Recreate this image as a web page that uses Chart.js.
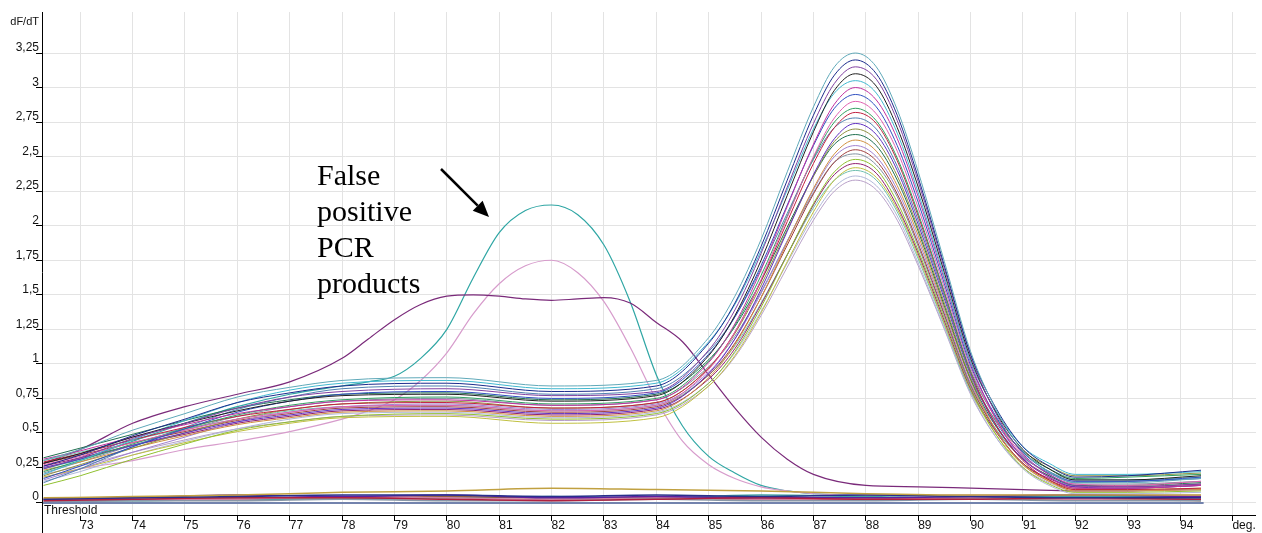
<!DOCTYPE html>
<html>
<head>
<meta charset="utf-8">
<script src="https://cdn.jsdelivr.net/npm/chart.js@4.4.1/dist/chart.umd.min.js"></script>
<style>
  body { margin: 0; background: #fff; }
  canvas { display: block; }
</style>
</head>
<body>
<canvas id="melt" width="1262" height="533"></canvas>
<script>
// melt curve temperatures (deg) for the positive wells
const meltTemps = [72.3, 73, 74, 75, 76, 77, 78, 80, 82, 84, 85, 85.5, 86, 86.5, 87, 87.4, 87.8, 88.2, 88.6, 89, 89.5, 90, 90.5, 91, 91.5, 92, 93, 94.4];

// dF/dT of the positive wells, main product peak near 87.8
const sampleCurves = [
  [0.30, 0.38, 0.52, 0.64, 0.76, 0.83, 0.88, 0.90, 0.84, 0.88, 1.19, 1.49, 1.90, 2.39, 2.86, 3.15, 3.25, 3.15, 2.84, 2.39, 1.74, 1.09, 0.66, 0.37, 0.22, 0.14, 0.14, 0.17],
  [0.26, 0.34, 0.48, 0.60, 0.72, 0.79, 0.84, 0.86, 0.80, 0.84, 1.15, 1.44, 1.85, 2.33, 2.80, 3.09, 3.20, 3.10, 2.80, 2.35, 1.71, 1.07, 0.67, 0.40, 0.26, 0.18, 0.19, 0.23],
  [0.24, 0.32, 0.46, 0.57, 0.68, 0.76, 0.80, 0.82, 0.77, 0.80, 1.10, 1.39, 1.80, 2.28, 2.74, 3.03, 3.15, 3.06, 2.76, 2.32, 1.69, 1.06, 0.63, 0.35, 0.20, 0.12, 0.11, 0.13],
  [0.28, 0.35, 0.47, 0.57, 0.66, 0.73, 0.77, 0.78, 0.73, 0.77, 1.06, 1.35, 1.75, 2.22, 2.68, 2.98, 3.10, 3.01, 2.71, 2.28, 1.66, 1.04, 0.64, 0.38, 0.24, 0.16, 0.16, 0.19],
  [0.20, 0.30, 0.45, 0.59, 0.72, 0.81, 0.86, 0.88, 0.82, 0.86, 1.16, 1.43, 1.82, 2.26, 2.70, 2.96, 3.05, 2.96, 2.67, 2.24, 1.63, 1.02, 0.65, 0.40, 0.28, 0.20, 0.20, 0.22],
  [0.31, 0.37, 0.47, 0.56, 0.64, 0.69, 0.73, 0.74, 0.70, 0.74, 1.01, 1.29, 1.68, 2.14, 2.59, 2.88, 3.00, 2.91, 2.63, 2.21, 1.61, 1.01, 0.59, 0.32, 0.18, 0.10, 0.10, 0.12],
  [0.17, 0.26, 0.40, 0.53, 0.65, 0.73, 0.78, 0.80, 0.75, 0.79, 1.07, 1.34, 1.71, 2.15, 2.58, 2.85, 2.95, 2.86, 2.58, 2.17, 1.58, 0.99, 0.61, 0.36, 0.22, 0.15, 0.15, 0.18],
  [0.27, 0.33, 0.43, 0.52, 0.60, 0.65, 0.69, 0.70, 0.66, 0.70, 0.96, 1.23, 1.61, 2.06, 2.50, 2.78, 2.90, 2.81, 2.54, 2.13, 1.55, 0.97, 0.59, 0.34, 0.20, 0.13, 0.12, 0.15],
  [0.22, 0.30, 0.42, 0.53, 0.63, 0.70, 0.74, 0.76, 0.71, 0.75, 1.02, 1.28, 1.64, 2.07, 2.49, 2.75, 2.85, 2.76, 2.49, 2.09, 1.52, 0.95, 0.60, 0.36, 0.24, 0.17, 0.18, 0.20],
  [0.29, 0.35, 0.45, 0.54, 0.62, 0.67, 0.71, 0.72, 0.68, 0.72, 0.97, 1.23, 1.60, 2.03, 2.45, 2.71, 2.82, 2.74, 2.47, 2.07, 1.51, 0.94, 0.55, 0.30, 0.16, 0.09, 0.09, 0.10],
  [0.14, 0.24, 0.40, 0.54, 0.67, 0.76, 0.82, 0.84, 0.78, 0.82, 1.09, 1.34, 1.69, 2.09, 2.48, 2.71, 2.78, 2.70, 2.43, 2.04, 1.49, 0.93, 0.57, 0.33, 0.21, 0.14, 0.15, 0.17],
  [0.25, 0.31, 0.41, 0.50, 0.58, 0.63, 0.67, 0.68, 0.64, 0.68, 0.93, 1.18, 1.54, 1.96, 2.37, 2.63, 2.74, 2.66, 2.40, 2.01, 1.47, 0.92, 0.55, 0.31, 0.18, 0.11, 0.10, 0.12],
  [0.19, 0.27, 0.39, 0.50, 0.60, 0.67, 0.71, 0.73, 0.68, 0.72, 0.97, 1.22, 1.57, 1.97, 2.36, 2.61, 2.70, 2.62, 2.36, 1.98, 1.44, 0.90, 0.58, 0.37, 0.26, 0.19, 0.19, 0.21],
  [0.32, 0.39, 0.49, 0.59, 0.68, 0.74, 0.78, 0.79, 0.74, 0.78, 1.03, 1.27, 1.60, 1.99, 2.36, 2.59, 2.66, 2.58, 2.33, 1.96, 1.42, 0.89, 0.54, 0.31, 0.19, 0.12, 0.12, 0.14],
  [0.23, 0.29, 0.39, 0.48, 0.56, 0.61, 0.65, 0.66, 0.62, 0.66, 0.90, 1.14, 1.48, 1.88, 2.27, 2.52, 2.62, 2.54, 2.29, 1.93, 1.40, 0.88, 0.51, 0.27, 0.15, 0.08, 0.08, 0.09],
  [0.16, 0.24, 0.36, 0.47, 0.58, 0.65, 0.69, 0.71, 0.67, 0.71, 0.94, 1.18, 1.51, 1.89, 2.26, 2.50, 2.58, 2.50, 2.26, 1.90, 1.38, 0.86, 0.54, 0.33, 0.21, 0.15, 0.15, 0.17],
  [0.28, 0.34, 0.43, 0.51, 0.59, 0.64, 0.68, 0.69, 0.65, 0.69, 0.92, 1.15, 1.48, 1.86, 2.23, 2.46, 2.55, 2.47, 2.23, 1.87, 1.36, 0.85, 0.51, 0.28, 0.16, 0.10, 0.10, 0.12],
  [0.21, 0.29, 0.41, 0.52, 0.62, 0.69, 0.73, 0.75, 0.70, 0.74, 0.98, 1.20, 1.52, 1.89, 2.24, 2.46, 2.52, 2.44, 2.21, 1.85, 1.35, 0.84, 0.52, 0.31, 0.19, 0.13, 0.13, 0.15],
  [0.12, 0.19, 0.31, 0.42, 0.52, 0.58, 0.62, 0.64, 0.60, 0.64, 0.86, 1.09, 1.41, 1.79, 2.16, 2.39, 2.48, 2.41, 2.17, 1.82, 1.33, 0.83, 0.48, 0.25, 0.13, 0.07, 0.07, 0.08],
  [0.26, 0.32, 0.41, 0.49, 0.57, 0.62, 0.66, 0.67, 0.63, 0.67, 0.89, 1.11, 1.43, 1.79, 2.15, 2.37, 2.45, 2.38, 2.14, 1.80, 1.31, 0.82, 0.50, 0.28, 0.17, 0.11, 0.11, 0.13],
  [0.18, 0.24, 0.34, 0.43, 0.51, 0.57, 0.61, 0.62, 0.57, 0.61, 0.84, 1.06, 1.37, 1.74, 2.10, 2.33, 2.42, 2.35, 2.12, 1.78, 1.29, 0.81, 0.48, 0.27, 0.15, 0.09, 0.09, 0.10],
  [0.30, 0.36, 0.45, 0.53, 0.60, 0.66, 0.69, 0.70, 0.66, 0.70, 0.92, 1.13, 1.44, 1.79, 2.13, 2.33, 2.40, 2.33, 2.10, 1.76, 1.28, 0.80, 0.51, 0.32, 0.22, 0.16, 0.16, 0.18],
  [0.15, 0.22, 0.34, 0.44, 0.53, 0.60, 0.64, 0.65, 0.61, 0.65, 0.86, 1.08, 1.38, 1.73, 2.07, 2.28, 2.36, 2.29, 2.07, 1.73, 1.26, 0.79, 0.46, 0.24, 0.12, 0.06, 0.06, 0.07],
  [0.20, 0.26, 0.36, 0.45, 0.53, 0.58, 0.62, 0.63, 0.59, 0.63, 0.84, 1.05, 1.35, 1.70, 2.04, 2.25, 2.33, 2.26, 2.04, 1.71, 1.25, 0.78, 0.46, 0.25, 0.14, 0.08, 0.08, 0.09]
];
const sampleColors = ['#5fa9b9', '#1c2c8c', '#8040a0', '#202020', '#40b8d0', '#c030a0', '#3050c0', '#e060b0',
  '#30a060', '#c02040', '#5080b0', '#6030c0', '#909040', '#207050', '#d09040', '#a080d0',
  '#a04040', '#8090a0', '#90c030', '#902070', '#c0c040', '#70c0b0', '#b0b8d8', '#b8a0c8'];

// the three wells with an early, unspecific peak
const fpTemps = [72.3, 73, 74, 75, 76, 77, 78, 78.5, 79, 79.5, 80, 80.5, 81, 81.5, 82, 82.5, 83, 83.5, 84, 84.5, 85, 85.5, 86, 86.5, 87, 88, 89, 90, 91, 92, 93, 94, 94.4];
const fpTeal = [0.24, 0.31, 0.44, 0.57, 0.69, 0.78, 0.84, 0.87, 0.91, 1.04, 1.25, 1.62, 1.95, 2.11, 2.15, 2.08, 1.86, 1.45, 0.92, 0.55, 0.33, 0.21, 0.12, 0.08, 0.06, 0.05, 0.05, 0.04, 0.04, 0.04, 0.04, 0.04, 0.04];
const fpPink = [0.18, 0.24, 0.30, 0.38, 0.44, 0.51, 0.60, 0.66, 0.74, 0.88, 1.08, 1.36, 1.58, 1.71, 1.75, 1.66, 1.45, 1.12, 0.74, 0.44, 0.27, 0.17, 0.11, 0.08, 0.06, 0.05, 0.05, 0.05, 0.05, 0.05, 0.05, 0.05, 0.05];
const fpPurple = [0.28, 0.38, 0.57, 0.69, 0.78, 0.87, 1.04, 1.18, 1.32, 1.43, 1.49, 1.50, 1.49, 1.47, 1.46, 1.47, 1.48, 1.44, 1.30, 1.16, 0.92, 0.68, 0.47, 0.31, 0.20, 0.12, 0.11, 0.10, 0.09, 0.08, 0.08, 0.09, 0.09];

// no-template controls, flat near zero
const ntcTemps = [72.3, 74, 76, 78, 80, 82, 84, 86, 88, 90, 92, 94.4];
const ntcCurves = [
  [0.03, 0.04, 0.05, 0.07, 0.08, 0.10, 0.09, 0.08, 0.06, 0.05, 0.05, 0.05],
  [0.02, 0.03, 0.04, 0.05, 0.05, 0.04, 0.05, 0.04, 0.05, 0.04, 0.03, 0.03],
  [0.01, 0.02, 0.03, 0.03, 0.02, 0.01, 0.02, 0.03, 0.02, 0.02, 0.03, 0.02],
  [0.02, 0.03, 0.05, 0.04, 0.05, 0.03, 0.04, 0.03, 0.03, 0.04, 0.05, 0.04],
  [0.00, 0.01, 0.01, 0.02, 0.01, 0.01, 0.02, 0.01, 0.01, 0.02, 0.01, 0.01],
  [0.01, 0.02, 0.02, 0.04, 0.03, 0.02, 0.03, 0.02, 0.02, 0.03, 0.02, 0.03],
  [0.02, 0.02, 0.03, 0.03, 0.04, 0.03, 0.03, 0.02, 0.03, 0.02, 0.02, 0.01],
  [0.01, 0.01, 0.02, 0.02, 0.03, 0.04, 0.03, 0.05, 0.04, 0.03, 0.04, 0.02]
];
const ntcColors = ['#c0a040', '#28308c', '#b02040', '#6020a0', '#8898a8', '#d080a0', '#906040', '#40a0a0'];

const thresholdTemps = [72.27, 94.45];
const thresholdLevel = [-0.008, -0.008];

const xTickValues = [73, 74, 75, 76, 77, 78, 79, 80, 81, 82, 83, 84, 85, 86, 87, 88, 89, 90, 91, 92, 93, 94, 95];
const xTickLabels = ['73', '74', '75', '76', '77', '78', '79', '80', '81', '82', '83', '84', '85', '86', '87', '88', '89', '90', '91', '92', '93', '94', 'deg.'];
const yTickValues = [0, 0.25, 0.5, 0.75, 1, 1.25, 1.5, 1.75, 2, 2.25, 2.5, 2.75, 3, 3.25];
const yTickLabels = ['0', '0,25', '0,5', '0,75', '1', '1,25', '1,5', '1,75', '2', '2,25', '2,5', '2,75', '3', '3,25'];

const noteLines = ['False', 'positive', 'PCR', 'products'];

const line = (xs, ys, color, width) => ({
  data: xs.map((x, i) => ({ x, y: ys[i] })),
  borderColor: color,
  borderWidth: width,
  pointRadius: 0,
  fill: false,
  cubicInterpolationMode: 'monotone'
});

const datasets = [line(thresholdTemps, thresholdLevel, '#7383ad', 2)];
ntcCurves.forEach((c, i) => datasets.push(line(ntcTemps, c, ntcColors[i], 1.5)));
sampleCurves.forEach((c, i) => datasets.push(line(meltTemps, c, sampleColors[i], 1)));
datasets.push(line(fpTemps, fpPurple, '#7a2a7a', 1.2));
datasets.push(line(fpTemps, fpPink, '#d79ccc', 1.2));
datasets.push(line(fpTemps, fpTeal, '#2fa6a4', 1.2));

// axis lines, corner labels, note and arrow
const overlay = {
  id: 'overlay',
  afterDraw: chart => {
    const { ctx, chartArea: a } = chart;
    ctx.save();
    ctx.fillStyle = '#fff';
    ctx.fillRect(a.left + 1, a.bottom - 10, 57, 11);

    ctx.strokeStyle = '#000';
    ctx.lineWidth = 1;
    ctx.beginPath();
    ctx.moveTo(a.left + 0.5, a.top);
    ctx.lineTo(a.left + 0.5, chart.height);
    ctx.moveTo(100, a.bottom + 0.5);
    ctx.lineTo(a.right, a.bottom + 0.5);
    ctx.stroke();

    ctx.fillStyle = '#111';
    ctx.font = '12px "Liberation Sans", Arial, sans-serif';
    ctx.textBaseline = 'alphabetic';
    ctx.textAlign = 'left';
    ctx.fillText('Threshold', a.left + 2, a.bottom - 1);
    ctx.font = '11px "Liberation Sans", Arial, sans-serif';
    ctx.textAlign = 'right';
    ctx.fillText('dF/dT', a.left - 3, 25);

    ctx.fillStyle = '#000';
    ctx.font = '30px "Liberation Serif", "Times New Roman", serif';
    ctx.textAlign = 'left';
    noteLines.forEach((t, i) => ctx.fillText(t, 317, 185 + i * 36));

    // arrow pointing at the early peaks
    const x0 = 441, y0 = 169, x1 = 489, y1 = 217;
    const ang = Math.atan2(y1 - y0, x1 - x0);
    const head = 16, half = 7;
    const bx = x1 - head * Math.cos(ang), by = y1 - head * Math.sin(ang);
    ctx.strokeStyle = '#000';
    ctx.lineWidth = 2.5;
    ctx.beginPath();
    ctx.moveTo(x0, y0);
    ctx.lineTo(bx, by);
    ctx.stroke();
    ctx.beginPath();
    ctx.moveTo(x1, y1);
    ctx.lineTo(bx + half * Math.sin(ang), by - half * Math.cos(ang));
    ctx.lineTo(bx - half * Math.sin(ang), by + half * Math.cos(ang));
    ctx.closePath();
    ctx.fill();
    ctx.restore();
  }
};

window.onload = _ => {
  const tickFont = { family: '"Liberation Sans", Arial, sans-serif', size: 12 };

  new Chart(document.getElementById('melt'), {
    type: 'line',
    data: { datasets },
    options: {
      responsive: false,
      animation: false,
      layout: { padding: { top: 12, right: 6, left: 0, bottom: 0 } },
      plugins: { legend: { display: false }, tooltip: { enabled: false } },
      scales: {
        x: {
          type: 'linear',
          min: 72.27,
          max: 95.45,
          afterBuildTicks: s => { s.ticks = xTickValues.map(value => ({ value })); },
          afterFit: s => { s.height = 18; },
          border: { display: false },
          grid: { color: '#e3e3e3', tickColor: '#000', tickLength: 6 },
          ticks: {
            align: 'start',
            padding: -3,
            autoSkip: false,
            maxRotation: 0,
            color: '#111',
            font: tickFont,
            callback: v => xTickLabels[xTickValues.indexOf(v)]
          }
        },
        y: {
          min: -0.094,
          max: 3.547,
          afterBuildTicks: s => { s.ticks = yTickValues.map(value => ({ value })); },
          afterFit: s => { s.width = 42; },
          border: { display: false },
          grid: { color: '#e3e3e3', tickColor: '#000', tickLength: 6 },
          ticks: {
            padding: -3,
            labelOffset: -5,
            color: '#111',
            font: tickFont,
            callback: v => yTickLabels[yTickValues.indexOf(v)]
          }
        }
      }
    },
    plugins: [overlay]
  });
};
</script>
</body>
</html>
